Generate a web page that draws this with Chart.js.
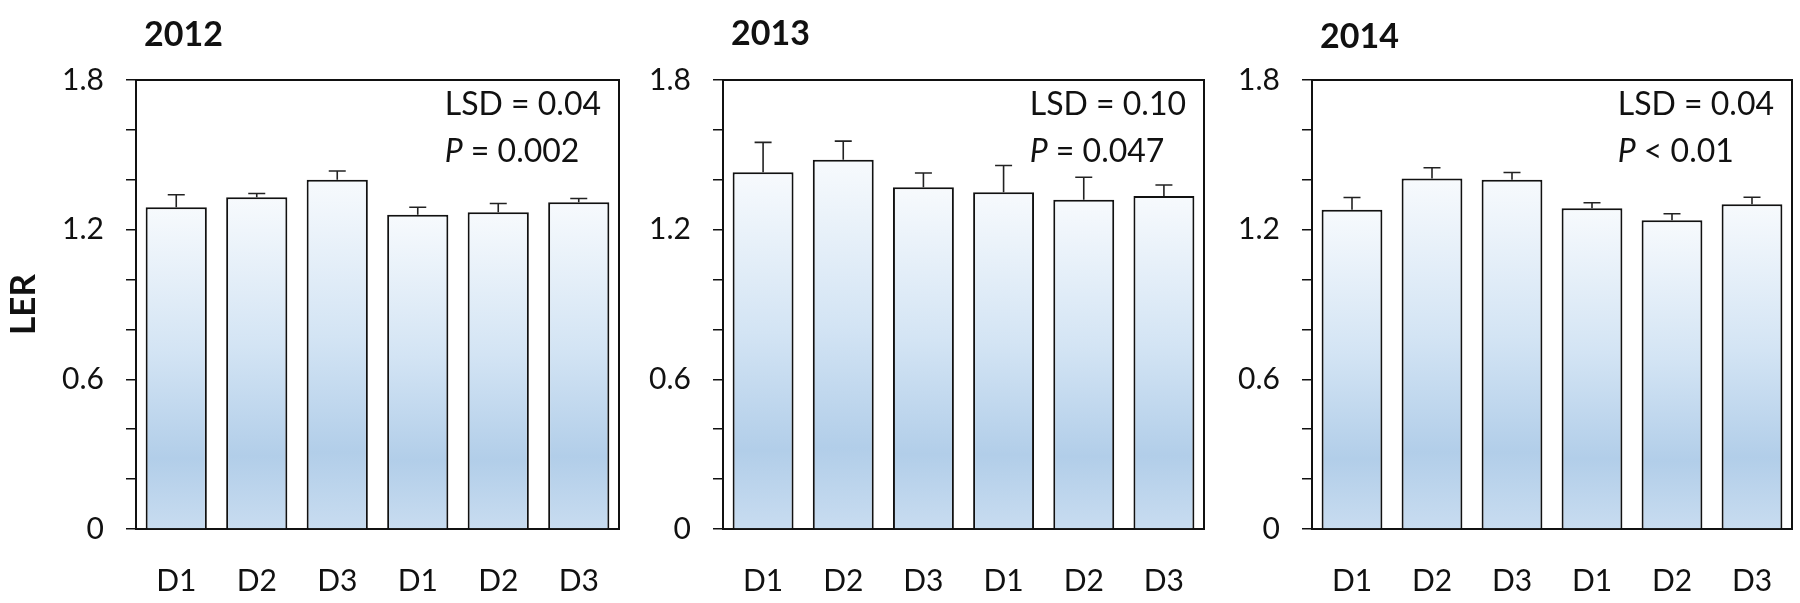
<!DOCTYPE html>
<html><head><meta charset="utf-8">
<script src="https://cdn.jsdelivr.net/npm/chart.js@4.4.0/dist/chart.umd.min.js"></script>
<style>
html,body{margin:0;padding:0;background:#fff;width:1800px;height:603px;overflow:hidden}
canvas{position:absolute;top:0}
</style></head><body>
<canvas id="c0"></canvas><canvas id="c1"></canvas><canvas id="c2"></canvas>
<script>
// ---- data ----
const categories = ['D1', 'D2', 'D3', 'D1', 'D2', 'D3'];
const years = ['2012', '2013', '2014'];
const values2012 = [1.29, 1.33, 1.40, 1.26, 1.27, 1.31];
const errors2012 = [0.05, 0.015, 0.035, 0.03, 0.035, 0.015];
const values2013 = [1.43, 1.48, 1.37, 1.35, 1.32, 1.335];
const errors2013 = [0.12, 0.075, 0.057, 0.107, 0.09, 0.044];
const values2014 = [1.28, 1.405, 1.40, 1.286, 1.238, 1.302];
const errors2014 = [0.049, 0.043, 0.029, 0.022, 0.026, 0.028];
const lsdLabels = ['LSD = 0.04', 'LSD = 0.10', 'LSD = 0.04'];
const pLabels = [' = 0.002', ' = 0.047', ' < 0.01'];
const yTickLabels = ['0', '0.6', '1.2', '1.8'];
const yAxisTitle = 'LER';

const seriesValues = [values2012, values2013, values2014];
const seriesErrors = [errors2012, errors2013, errors2014];

// ---- layout (page pixels) ----
const panelLayout = [
  {axisX: 136, right: 619, titleY: 46},
  {axisX: 723, right: 1204, titleY: 45},
  {axisX: 1312, right: 1792, titleY: 48}
];
const AXIS_W = 136, TOP = 80, BOTTOM = 529, H = 603, RPAD = 8;
const FONT = 'Lato';
const INK = '#111';

const errorBars = {
  id: 'errorBars',
  afterDatasetsDraw(chart, args, opts) {
    const ctx = chart.ctx, ys = chart.scales.y;
    const meta = chart.getDatasetMeta(0);
    const vals = chart.data.datasets[0].data;
    ctx.save();
    ctx.strokeStyle = '#222';
    ctx.lineWidth = 1.6;
    meta.data.forEach((bar, i) => {
      const yt = ys.getPixelForValue(vals[i] + opts.errors[i]);
      ctx.beginPath();
      ctx.moveTo(bar.x, bar.y);
      ctx.lineTo(bar.x, yt);
      ctx.moveTo(bar.x - 8.5, yt);
      ctx.lineTo(bar.x + 8.5, yt);
      ctx.stroke();
    });
    ctx.restore();
  }
};

const frame = {
  id: 'frame',
  afterDraw(chart) {
    const {ctx, chartArea: a} = chart;
    ctx.save();
    ctx.strokeStyle = INK;
    ctx.lineWidth = 2;
    ctx.beginPath();
    ctx.moveTo(a.left, a.top);
    ctx.lineTo(a.right, a.top);
    ctx.lineTo(a.right, a.bottom);
    ctx.stroke();
    ctx.restore();
  }
};

const texts = {
  id: 'texts',
  afterDraw(chart, args, opts) {
    const {ctx, chartArea: a} = chart;
    ctx.save();
    ctx.fillStyle = INK;
    ctx.textBaseline = 'alphabetic';
    ctx.textAlign = 'left';
    ctx.font = 'bold 34px ' + FONT;
    ctx.fillText(opts.year, a.left + 8, opts.titleY);
    ctx.font = '32px ' + FONT;
    const w = ctx.measureText(opts.lsd).width;
    const x0 = a.right - 18 - w;
    ctx.fillText(opts.lsd, x0, 115);
    ctx.font = 'italic 32px ' + FONT;
    ctx.fillText('P', x0, 162);
    const pw = ctx.measureText('P').width;
    ctx.font = '32px ' + FONT;
    ctx.fillText(opts.p, x0 + pw, 162);
    ctx.restore();
  }
};

function barFill(c) {
  const chart = c.chart, area = chart.chartArea;
  if (!area || c.raw === undefined) return '#c8dcf0';
  const top = chart.scales.y.getPixelForValue(c.raw);
  const g = chart.ctx.createLinearGradient(0, top, 0, area.bottom);
  g.addColorStop(0, '#f7fafd');
  g.addColorStop(0.45, '#d3e4f4');
  g.addColorStop(0.78, '#b2cee9');
  g.addColorStop(1, '#c8dcf0');
  return g;
}

panelLayout.forEach((p, i) => {
  const cv = document.getElementById('c' + i);
  const left = p.axisX - AXIS_W;
  const width = p.right + RPAD - left;
  cv.style.left = left + 'px';
  cv.width = width; cv.height = H;
  cv.style.width = width + 'px'; cv.style.height = H + 'px';

  new Chart(cv, {
    type: 'bar',
    data: {
      labels: categories,
      datasets: [{
        data: seriesValues[i],
        backgroundColor: barFill,
        borderColor: INK,
        borderWidth: 2,
        barPercentage: 0.76,
        categoryPercentage: 1.0
      }]
    },
    options: {
      responsive: false,
      animation: false,
      devicePixelRatio: 1,
      layout: {padding: {top: TOP, right: RPAD, left: 0, bottom: 0}},
      plugins: {
        legend: {display: false},
        tooltip: {enabled: false},
        errorBars: {errors: seriesErrors[i]},
        texts: {year: years[i], lsd: lsdLabels[i], p: pLabels[i], titleY: p.titleY}
      },
      scales: {
        x: {
          grid: {display: false},
          border: {color: INK, width: 2},
          ticks: {font: {family: FONT, size: 30}, color: INK, padding: 26, maxRotation: 0},
          afterFit(s) { s.height = H - BOTTOM; }
        },
        y: {
          min: 0, max: 1.8,
          ticks: {
            stepSize: 0.2,
            font: {family: FONT, size: 30},
            color: INK,
            padding: 22,
            callback(v) {
              const s = (Math.round(v * 10) / 10).toString();
              return yTickLabels.includes(s) ? s : '';
            }
          },
          grid: {drawOnChartArea: false, drawTicks: true, tickLength: 10, color: INK, lineWidth: 1.5},
          border: {color: INK, width: 2},
          title: {display: i === 0, text: yAxisTitle, color: INK,
                  font: {family: FONT, size: 35, weight: 'bold'}, padding: {top: 3, bottom: 0}},
          afterFit(s) { s.width = AXIS_W; }
        }
      }
    },
    plugins: [errorBars, frame, texts]
  });
});
</script>
</body></html>
